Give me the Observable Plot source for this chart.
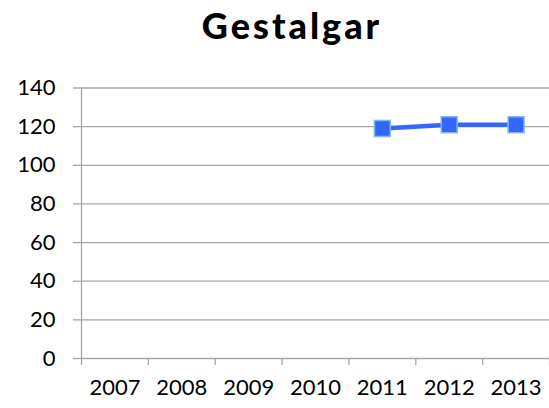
<!DOCTYPE html>
<html>
<head>
<meta charset="utf-8">
<script src="https://cdn.jsdelivr.net/npm/d3@7"></script>
<script src="https://cdn.jsdelivr.net/npm/@observablehq/plot@0.6"></script>
<style>
  html, body { margin: 0; padding: 0; background: #fff; }
  #wrap { width: 549px; height: 408px; position: relative; overflow: hidden; }
  #title { position: absolute; left: 0; top: 0; width: 584px; text-align: center;
           font-family: Lato, "Open Sans", sans-serif; font-weight: 900; font-size: 36px;
           letter-spacing: 3px; line-height: 50px; color: #000; }
  #chart { position: absolute; left: 0; top: 62px; }
  #chart svg { font-family: Lato, "Open Sans", sans-serif; }
</style>
</head>
<body>
<div id="wrap">
  <div id="title">Gestalgar</div>
  <div id="chart"></div>
</div>
<script>
const years = [2007, 2008, 2009, 2010, 2011, 2012, 2013];
const values = [null, null, null, null, 119, 121, 121];
const yTicks = [0, 20, 40, 60, 80, 100, 120, 140];

const data = years.map((y, i) => ({year: y, value: values[i]}));
const pts = data.filter(d => d.value != null);
const bounds = years.map(y => y - 0.5).concat([years[years.length - 1] + 0.5]);
const gridColor = "#a6a6a6";

const plot = Plot.plot({
  width: 549,
  height: 346,
  marginTop: 25.5,
  marginBottom: 50,
  marginLeft: 81,
  marginRight: 0,
  style: {fontSize: "22px", color: "#000", background: "transparent"},
  x: {domain: [bounds[0], bounds[bounds.length - 1]], label: null},
  y: {domain: [0, 140], label: null},
  marks: [
    Plot.ruleY(yTicks, {stroke: gridColor, strokeWidth: 1.3, x1: bounds[0], x2: bounds[bounds.length - 1]}),
    Plot.axisY({ticks: yTicks, tickSize: 8, tickPadding: 18, stroke: gridColor, strokeWidth: 1.3, strokeOpacity: 1, fill: "#000", label: null, tickFormat: d => String(d)}),
    Plot.ruleX([bounds[0]], {y1: 0, y2: 140, stroke: gridColor, strokeWidth: 1.3}),
    Plot.axisX({ticks: bounds, tickSize: 7, tickFormat: () => "", stroke: gridColor, strokeWidth: 1.3, strokeOpacity: 1, label: null}),
    Plot.axisX({ticks: years, tickSize: 0, tickPadding: 21, tickFormat: d => String(d), fill: "#000", label: null}),
    Plot.line(pts, {x: "year", y: "value", stroke: "#3366ff", strokeWidth: 4.5}),
    Plot.dot(pts, {x: "year", y: "value", symbol: "square", r: 9, fill: "#3366ff", stroke: "#8ab4ec", strokeWidth: 1.5})
  ]
});
document.getElementById("chart").appendChild(plot);
</script>
</body>
</html>
